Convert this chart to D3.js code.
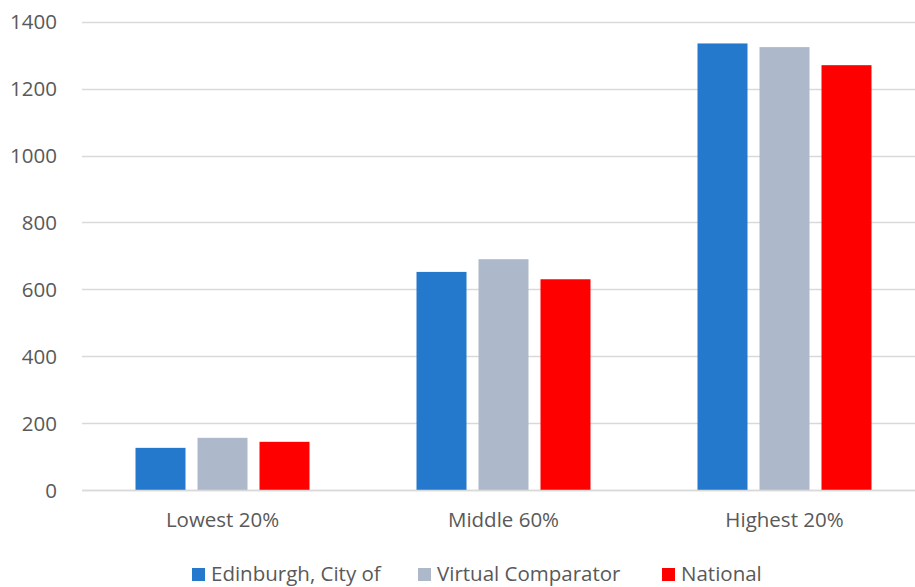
<!DOCTYPE html>
<html>
<head>
<meta charset="utf-8">
<script src="https://cdn.jsdelivr.net/npm/d3@7"></script>
<style>
  html, body { margin: 0; padding: 0; background: #fff; }
  svg { display: block; }
  text { font-family: "Open Sans", "Noto Sans", sans-serif; fill: #595959; }
</style>
</head>
<body>
<svg id="chart" width="915" height="587"></svg>
<script>
// Income band groups and series
const categories = ["Lowest 20%", "Middle 60%", "Highest 20%"];
const seriesNames = ["Edinburgh, City of", "Virtual Comparator", "National"];
const edinburgh = [126, 652, 1335];
const virtualComparator = [156, 690, 1324];
const national = [144, 630, 1270];
const yTicks = [0, 200, 400, 600, 800, 1000, 1200, 1400];

const seriesValues = [edinburgh, virtualComparator, national];
const colors = ["#2479CC", "#ADB9CA", "#FF0000"];

const svg = d3.select("#chart");
const W = 915, H = 587;
const plot = { left: 82, right: 925, top: 21.7, bottom: 490 };
const fontSize = "20.5px";

const y = d3.scaleLinear().domain([0, 1400]).range([plot.bottom, plot.top]);
const x0 = d3.scaleBand().domain(categories).range([plot.left, plot.right]).paddingInner(0).paddingOuter(0);
const x1 = d3.scaleBand().domain(seriesNames).range([0, x0.bandwidth()]).paddingInner(0.1935).paddingOuter(0.863);

// Gridlines
svg.append("g")
  .selectAll("line")
  .data(yTicks)
  .join("line")
  .attr("x1", plot.left)
  .attr("x2", W)
  .attr("y1", d => Math.round(y(d)) + 0.5)
  .attr("y2", d => Math.round(y(d)) + 0.5)
  .attr("stroke", "#D9D9D9")
  .attr("stroke-width", 1.5);

// Y axis labels
const yAxis = d3.axisLeft(y).tickValues(yTicks).tickFormat(d3.format("d")).tickSize(0).tickPadding(0);
const yg = svg.append("g").attr("transform", `translate(57,0)`).call(yAxis);
yg.select(".domain").remove();
yg.selectAll("text").style("font-size", fontSize).attr("fill", "#595959").attr("dy", "0.35em");

// Bars
const groups = svg.append("g")
  .selectAll("g")
  .data(categories)
  .join("g")
  .attr("transform", d => `translate(${x0(d)},0)`);

groups.selectAll("rect")
  .data((c, i) => seriesNames.map((s, j) => ({ s, v: seriesValues[j][i], j })))
  .join("rect")
  .attr("x", d => x1(d.s))
  .attr("width", x1.bandwidth())
  .attr("y", d => y(d.v))
  .attr("height", d => y(0) - y(d.v))
  .attr("fill", d => colors[d.j]);

// Baseline redrawn on top of bars
svg.append("line")
  .attr("x1", plot.left).attr("x2", W)
  .attr("y1", Math.round(y(0)) + 0.5).attr("y2", Math.round(y(0)) + 0.5)
  .attr("stroke", "#D9D9D9").attr("stroke-width", 1.5);

// X axis labels
const xAxis = d3.axisBottom(x0).tickSize(0).tickPadding(0);
const xg = svg.append("g").attr("transform", `translate(0,527)`).call(xAxis);
xg.select(".domain").remove();
xg.selectAll("text").style("font-size", fontSize).attr("fill", "#595959").attr("dy", "0");

// Legend
const legendItems = [
  { name: seriesNames[0], x: 192 },
  { name: seriesNames[1], x: 418 },
  { name: seriesNames[2], x: 662 }
];
const lg = svg.append("g");
legendItems.forEach((it, i) => {
  lg.append("rect").attr("x", it.x).attr("y", 568).attr("width", 13).attr("height", 13).attr("fill", colors[i]);
  lg.append("text").attr("x", it.x + 19).attr("y", 581).style("font-size", fontSize).text(it.name);
});
</script>
</body>
</html>
